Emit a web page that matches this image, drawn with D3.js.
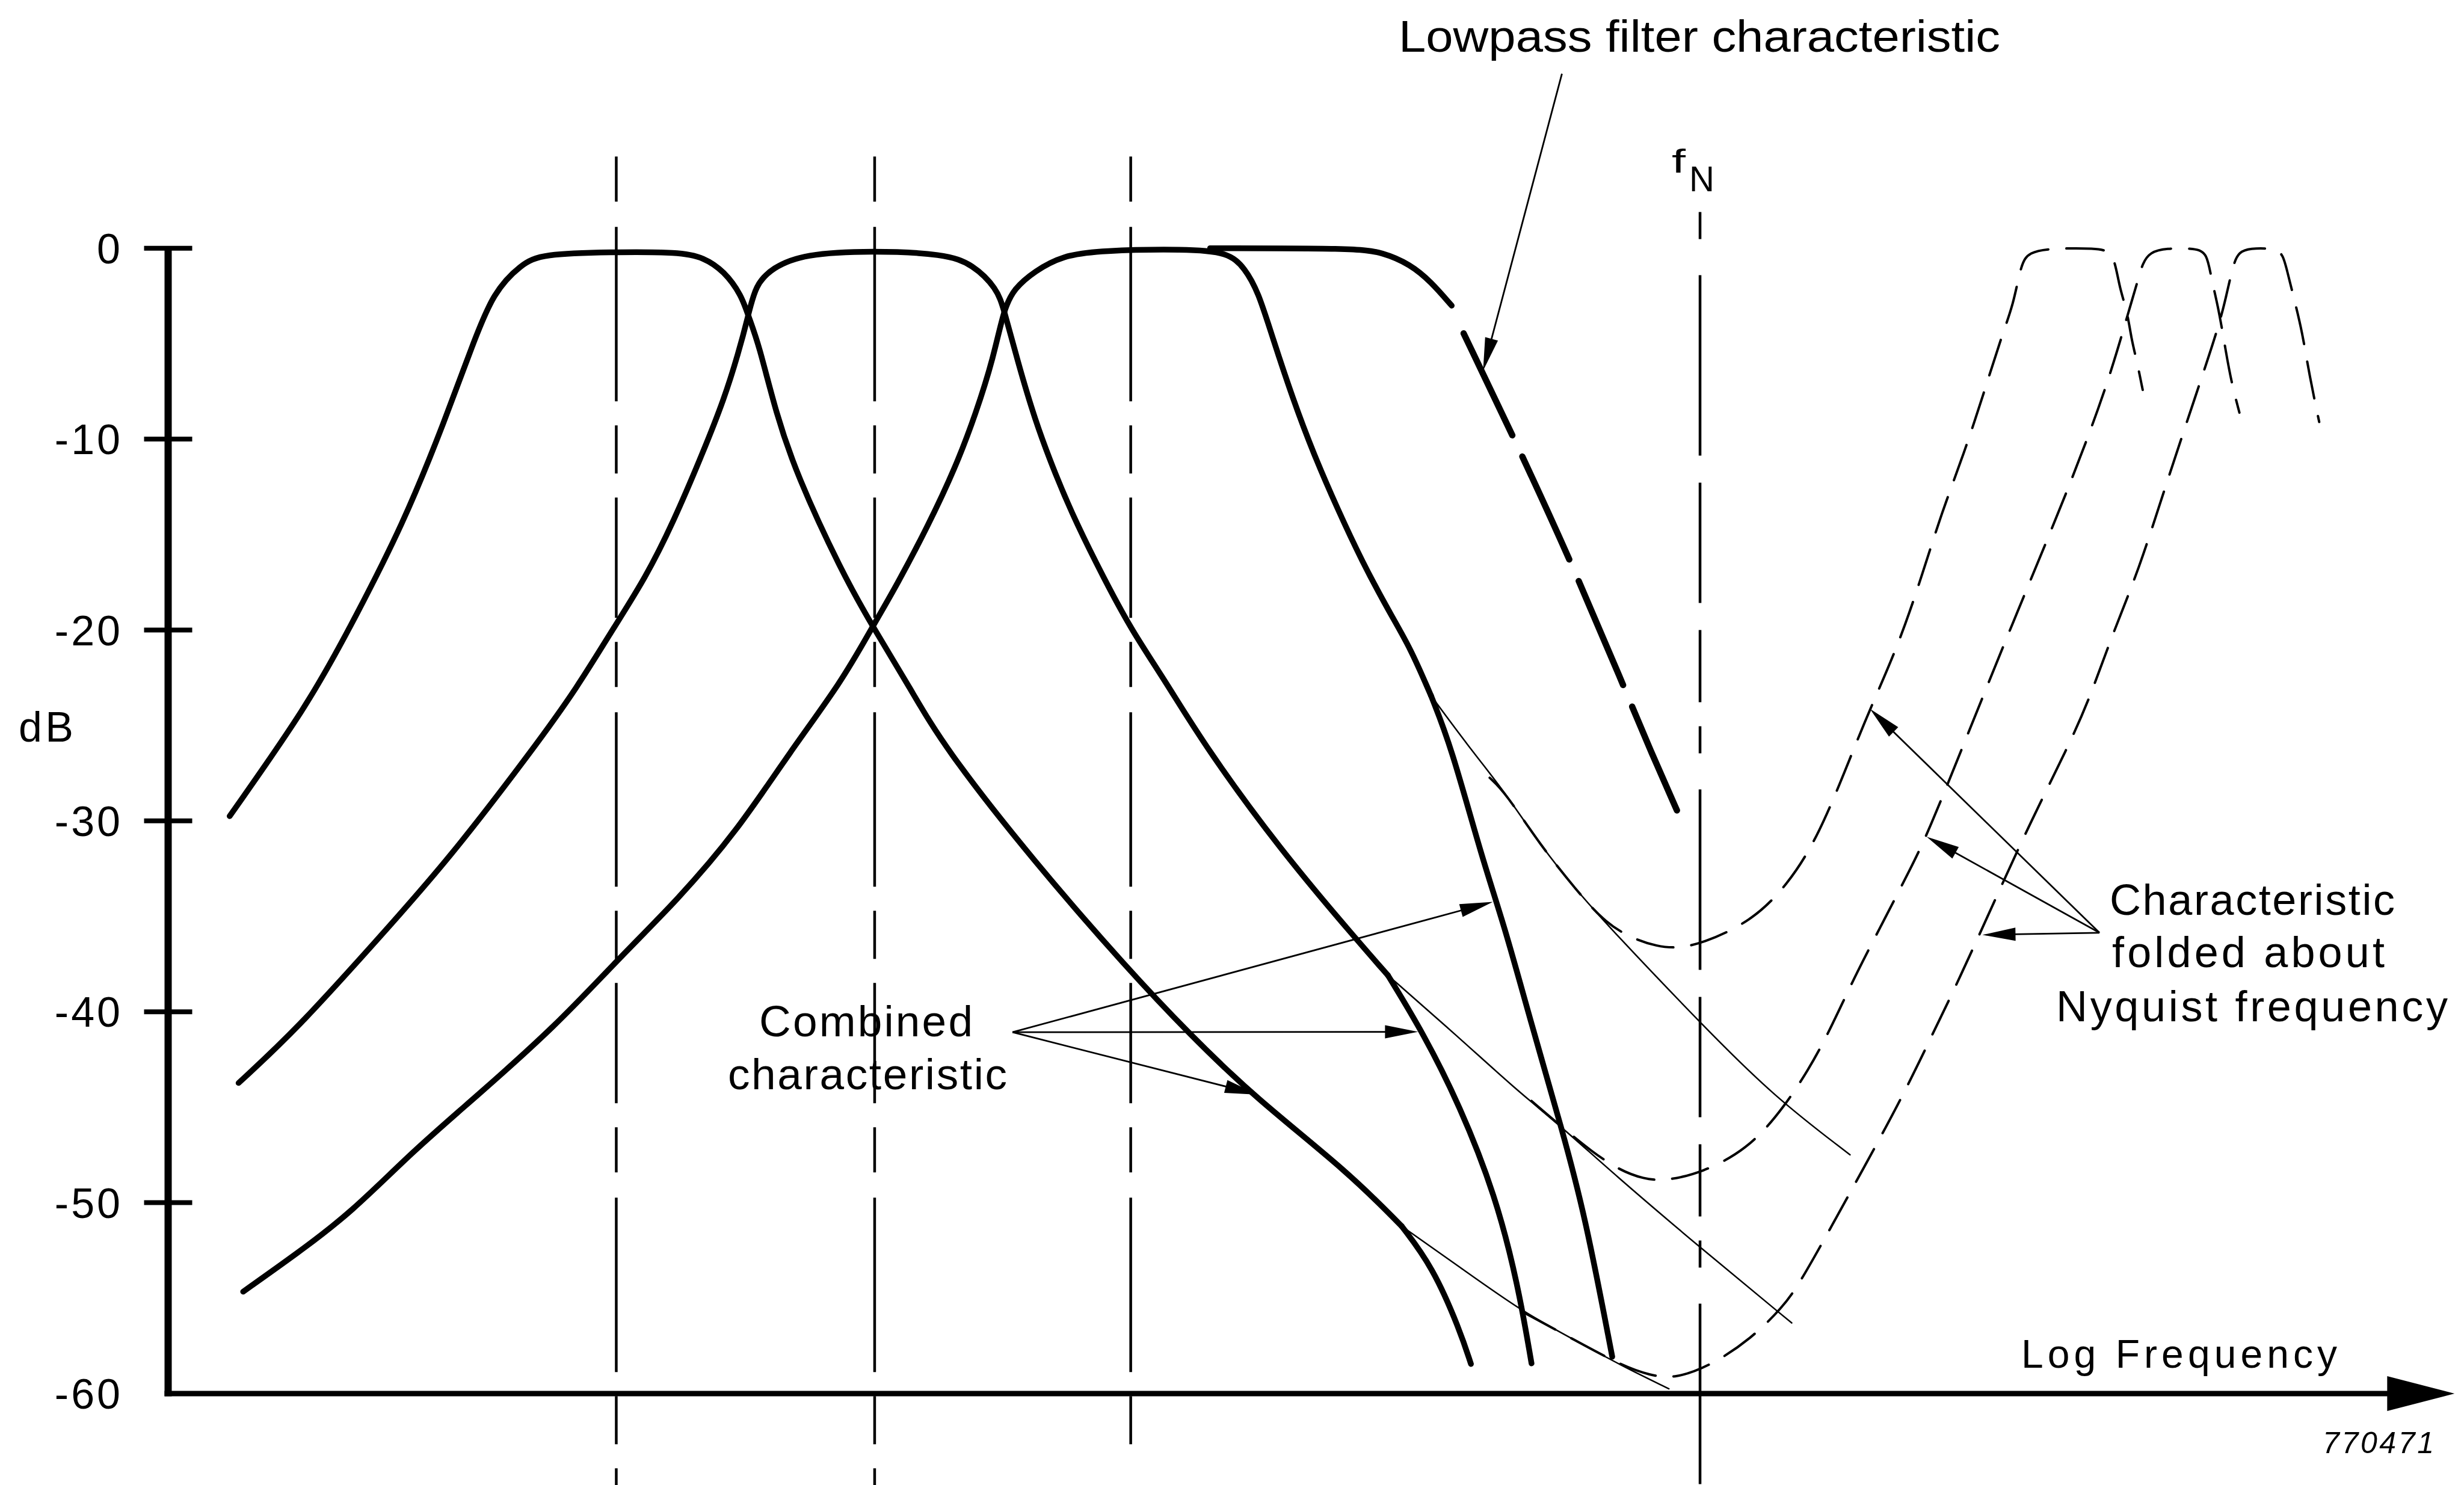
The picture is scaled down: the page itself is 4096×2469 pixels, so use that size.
<!DOCTYPE html>
<html><head><meta charset="utf-8">
<script src="https://cdn.jsdelivr.net/npm/d3@7"></script>
<style>html,body{margin:0;padding:0;background:#fff;}svg{display:block;}</style>
</head><body>
<svg id="chart" width="4096" height="2469"></svg>
<script>
// ---------- data (x: log frequency, 0..100 along the axis; y: dB) ----------
const yTicks = [0, -10, -20, -30, -40, -50, -60];
const yTickLabels = ["0", "-10", "-20", "-30", "-40", "-50", "-60"];
const markerFreqs = [19.6, 30.9, 42.1];
const nyquistFreq = 67.0;

const filter1 = [[2.69,-29.75],[6.08,-23.98],[7.90,-20.0],[10.31,-14.40],[12.12,-8.97],[13.33,-5.0],[14.23,-2.29],[15.44,-0.84],[16.35,-0.3],[19.37,-0.2],[22.38,-0.2],[23.42,-0.48],[24.32,-1.2],[25.08,-2.47],[25.37,-3.54],[25.83,-5.0],[26.58,-8.62],[27.49,-11.87],[29.45,-16.93],[30.81,-19.82],[32.47,-23.07],[33.88,-26.05],[37.90,-32.18],[41.99,-37.78],[44.64,-41.13],[47.53,-44.49],[51.62,-48.40],[53.95,-51.23]];
const filter1Combined = [[53.95,-51.23],[55.31,-53.37],[56.49,-56.66],[56.98,-58.45]];
const filter1Alone = [[53.95,-51.23],[56.49,-53.37],[59.24,-55.72],[61.40,-57.12],[63.55,-58.53],[65.64,-59.75]];

const filter2 = [[3.08,-43.73],[5.63,-40.91],[9.16,-36.21],[12.30,-31.98],[16.04,-26.11],[17.86,-23.07],[19.52,-19.82],[20.87,-17.28],[22.08,-14.40],[23.42,-10.62],[24.32,-7.89],[24.93,-5.54],[25.37,-3.56],[25.68,-1.93],[26.43,-1.02],[27.79,-0.3],[30.81,-0.12],[33.98,-0.3],[35.19,-0.84],[36.25,-2.11],[36.55,-3.19],[37.15,-5.90],[37.90,-8.97],[38.81,-11.87],[39.72,-14.40],[40.92,-17.28],[42.13,-20.0],[43.64,-22.72],[45.36,-26.11],[48.64,-31.51],[51.97,-36.21],[53.35,-38.09]];
const filter2Combined = [[53.35,-38.09],[54.91,-41.15],[56.49,-44.91],[58.05,-49.60],[59.04,-54.30],[59.63,-58.42]];
const filter2Alone = [[53.35,-38.09],[56.49,-41.38],[58.85,-43.97],[61.00,-46.08],[63.16,-48.43],[67.08,-52.43],[71.01,-56.30]];

const filter3 = [[3.28,-54.66],[5.64,-52.66],[7.99,-50.54],[10.74,-47.26],[13.48,-44.44],[17.01,-40.67],[19.57,-37.38],[22.31,-34.10],[24.86,-30.57],[27.22,-26.34],[29.45,-22.72],[30.81,-19.82],[31.87,-17.65],[33.22,-14.58],[34.43,-11.51],[35.34,-8.62],[36.10,-5.72],[36.55,-3.19],[37.00,-2.11],[37.90,-1.20],[39.11,-0.39],[40.77,-0.12],[44.54,-0.04],[46.36,-0.21],[47.08,-1.02],[47.68,-2.29],[48.29,-4.63],[49.19,-7.89],[50.10,-10.78],[51.15,-13.67],[52.21,-16.39],[53.42,-19.09],[54.32,-20.91],[55.23,-23.43]];
const filter3Combined = [[55.23,-23.43],[56.12,-26.11],[57.47,-31.98],[58.45,-35.51],[59.63,-40.67],[61.00,-46.31],[61.99,-50.78],[63.16,-58.07]];
const filter3Alone = [[55.23,-23.43],[56.88,-26.11],[58.45,-28.46],[60.02,-31.28],[61.59,-33.63],[63.16,-35.74],[67.08,-40.67],[70.23,-44.44],[73.56,-47.49]];

const lowpassSolid = [[45.57,0],[51.89,0],[53.11,-0.21],[54.32,-0.84],[55.23,-1.75],[56.14,-3.01]];
const lowpassDashed = [[56.66,-4.46],[58.97,-10.21],[61.37,-16.46],[63.64,-22.88],[64.81,-26.26],[66.10,-29.75]];

const folded3 = [[57.80,-27.74],[58.45,-28.46],[60.02,-31.28],[61.59,-33.63],[62.89,-35.39],[64.14,-36.21],[65.12,-36.56],[65.91,-36.68],[67.08,-36.44],[69.24,-35.27],[70.81,-33.39],[72.19,-30.81],[73.7,-26.3],[74.41,-24.21],[75.73,-20.63],[76.73,-17.06],[77.56,-13.88],[78.56,-10.70],[79.38,-7.71],[80.21,-4.53],[80.71,-2.94],[81.04,-0.82],[81.37,-0.21],[82.37,0],[84.36,0],[84.88,-0.16],[85.15,-0.66],[85.36,-2.14],[85.69,-3.33],[85.86,-4.73],[86.11,-5.93],[86.36,-7.42]];
const folded2 = [[59.63,-44.67],[61.00,-46.08],[62.27,-47.33],[63.44,-48.27],[64.54,-48.77],[65.50,-48.86],[67.08,-48.43],[69.04,-47.24],[70.62,-45.14],[72.26,-42.08],[73.59,-38.56],[74.91,-35.51],[76.23,-32.45],[76.99,-30.57],[78.49,-26.11],[80.71,-19.51],[82.87,-13.33],[84.54,-8.11],[85.36,-4.93],[85.69,-3.54],[86.12,-1.81],[86.36,-0.75],[86.69,-0.21],[87.35,0],[88.68,0],[89.18,-0.26],[89.35,-1.55],[89.68,-3.14],[90.01,-5.52],[90.26,-7.12],[90.59,-8.61]];
const folded1 = [[59.24,-55.72],[61.40,-57.12],[63.55,-58.52],[64.81,-59.05],[65.91,-59.22],[67.48,-58.53],[69.24,-57.12],[70.62,-55.47],[71.32,-54.30],[72.64,-51.48],[74.15,-48.20],[75.86,-44.44],[77.18,-41.14],[78.32,-38.33],[79.83,-34.33],[81.34,-30.34],[83.10,-26.11],[84.03,-23.62],[85.03,-20.24],[86.19,-16.86],[87.35,-12.49],[88.68,-7.71],[89.68,-4.13],[90.01,-2.54],[90.34,-0.74],[90.58,-0.21],[91.01,0],[92.17,0],[92.50,-0.35],[92.67,-1.15],[93.00,-2.74],[93.33,-4.33],[93.66,-6.72],[94.08,-9.10]];

const lowpassArrow = [[60.96, 9.14], [57.51, -6.42]];
const combinedArrowFrom = [36.93, -41.07];
const combinedArrowTips = [[57.94,-34.24],[54.67,-41.05],[47.66,-44.34]];
const foldedArrowFrom = [84.47, -35.86];
const foldedArrowTips = [[74.43,-24.13],[76.91,-30.83],[79.35,-35.97]];

// ---------- drawing ----------
const W = 4096, H = 2469;
const svg = d3.select("#chart");
const x = d3.scaleLinear().domain([0, 100]).range([279.5, 4080.3]);
const y = d3.scaleLinear().domain([-60, 0]).range([2317, 412.7]);
const line = d3.line().x(d => x(d[0])).y(d => y(d[1])).curve(d3.curveBasis);
const SANS = "'Liberation Sans', Arial, Helvetica, sans-serif";
const NARROW = "'Liberation Sans Narrow', 'Arial Narrow', 'Liberation Sans', Arial, sans-serif";

// vertical dashed reference lines
const vlines = markerFreqs.map((f, i) => ({f, top: 4.8, bottom: i === 2 ? -63.2 : -66, dash: "75,42,290,40,80,40,200,40"}));
vlines.push({f: nyquistFreq, top: 1.9, bottom: -66, dash: "45,60,300,45,200,45,120,40"});
svg.append("g").selectAll("line").data(vlines).join("line")
  .attr("x1", d => x(d.f)).attr("x2", d => x(d.f))
  .attr("y1", d => y(d.top)).attr("y2", d => Math.min(H, y(d.bottom)))
  .attr("stroke", "#000").attr("stroke-width", 4.5).attr("stroke-dasharray", d => d.dash);

// axes
const ax = svg.append("g").attr("stroke", "#000");
ax.append("line").attr("x1", x(0)).attr("x2", x(0)).attr("y1", y(0) - 3).attr("y2", y(-60) + 4.5).attr("stroke-width", 12);
ax.append("line").attr("x1", x(0) - 6).attr("x2", x(100) - 100).attr("y1", y(-60)).attr("y2", y(-60)).attr("stroke-width", 9);
svg.append("path")
  .attr("d", `M${x(100)},${y(-60)} L${x(100) - 112},${y(-60) - 29} L${x(100) - 112},${y(-60) + 29} Z`)
  .attr("fill", "#000");
ax.selectAll(".tk").data(yTicks.filter(v => v > -60)).join("line")
  .attr("x1", x(0) - 40).attr("x2", x(0) + 40)
  .attr("y1", d => y(d)).attr("y2", d => y(d)).attr("stroke-width", 8);
svg.append("g").selectAll("text").data(yTicks).join("text")
  .attr("x", 204).attr("y", d => y(d)).attr("dy", "0.36em")
  .attr("text-anchor", "end").attr("font-family", SANS).attr("font-size", 70)
  .attr("letter-spacing", 4)
  .text((d, i) => yTickLabels[i]);

// curves
const curves = [
  {d: filter1, w: 9.5}, {d: filter1Combined, w: 9.5}, {d: filter1Alone, w: 2.5},
  {d: filter2, w: 9.5}, {d: filter2Combined, w: 9.5}, {d: filter2Alone, w: 2.5},
  {d: filter3, w: 9.5}, {d: filter3Combined, w: 9.5}, {d: filter3Alone, w: 2.5},
  {d: lowpassSolid, w: 9.5},
  {d: lowpassDashed, w: 10.5, dash: "188,39"},
  {d: folded3, w: 4, dash: "62,30"},
  {d: folded2, w: 4, dash: "62,30"},
  {d: folded1, w: 4, dash: "62,30"}
];
svg.append("g").selectAll("path").data(curves).join("path")
  .attr("d", c => line(c.d)).attr("fill", "none").attr("stroke", "#000")
  .attr("stroke-width", c => c.w).attr("stroke-linecap", "round")
  .attr("stroke-dasharray", c => c.dash || null);

// annotation arrows
const arrows = svg.append("g");
function arrow(from, to) {
  const fx = x(from[0]), fy = y(from[1]), tx = x(to[0]), ty = y(to[1]);
  const len = Math.hypot(tx - fx, ty - fy), ux = (tx - fx) / len, uy = (ty - fy) / len;
  const L = 55, hw = 11, bx = tx - ux * L, by = ty - uy * L;
  arrows.append("line").attr("x1", fx).attr("y1", fy).attr("x2", bx + ux * 5).attr("y2", by + uy * 5)
    .attr("stroke", "#000").attr("stroke-width", 2.8);
  arrows.append("path")
    .attr("d", `M${tx},${ty} L${bx - uy * hw},${by + ux * hw} L${bx + uy * hw},${by - ux * hw} Z`)
    .attr("fill", "#000");
}
arrow(lowpassArrow[0], lowpassArrow[1]);
combinedArrowTips.forEach(t => arrow(combinedArrowFrom, t));
foldedArrowTips.forEach(t => arrow(foldedArrowFrom, t));

// text labels
function label(str, px, py, size, opts = {}) {
  const t = svg.append("text").attr("x", px).attr("y", py)
    .attr("font-family", opts.family || SANS).attr("font-size", size).attr("fill", "#000").text(str);
  if (opts.len) t.attr("textLength", opts.len).attr("lengthAdjust", opts.adjust || "spacing");
  if (opts.italic) t.attr("font-style", "italic");
  return t;
}
label("Lowpass filter characteristic", 2325, 86, 75, {family: NARROW, len: 1000, adjust: "spacingAndGlyphs"});
label("f", 2779, 287, 55, {family: NARROW, len: 23, adjust: "spacingAndGlyphs"});
label("N", 2808, 318, 59, {family: NARROW, len: 42, adjust: "spacingAndGlyphs"});
label("dB", 31, 1233, 70, {len: 91});
label("Combined", 1262, 1723, 73, {len: 355});
label("characteristic", 1210, 1811, 73, {len: 464});
label("Characteristic", 3507, 1521, 72, {len: 474});
label("folded about", 3511, 1608, 72, {len: 453});
label("Nyquist frequency", 3418, 1698, 72, {len: 651});
label("Log Frequency", 3360, 2274, 66, {len: 525});
label("770471", 3861, 2416, 50, {len: 185, italic: true});
</script>
</body></html>
